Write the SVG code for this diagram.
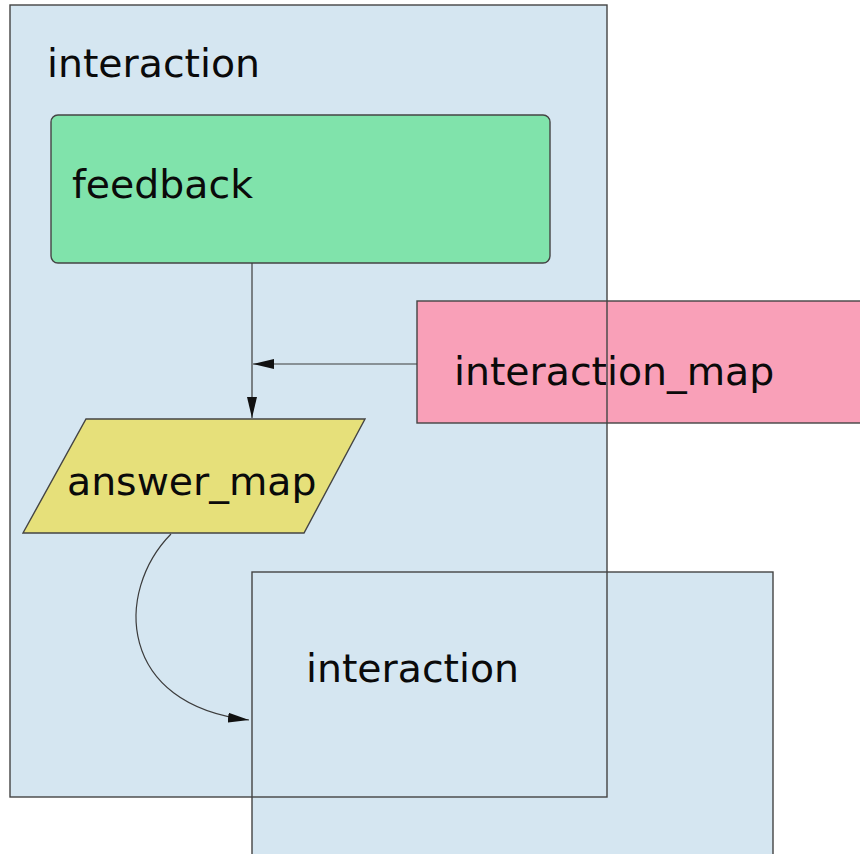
<svg xmlns="http://www.w3.org/2000/svg" width="860" height="854" viewBox="0 0 860 854">
  <style>
    .lbl { font-family: "DejaVu Sans", "Liberation Sans", sans-serif; font-size: 39.4px; fill: #0a0a0a; }
    .edge { fill: none; stroke: #3c3c3c; stroke-width: 1.2; }
    .frame { stroke: #444; stroke-width: 1.4; }
  </style>
  <defs>
    <marker id="arrow" viewBox="0 0 21 11" refX="21" refY="5.5" markerWidth="21" markerHeight="11" markerUnits="userSpaceOnUse" orient="auto">
      <path d="M0,0.5 L21,5.5 L0,10.5 Z" fill="#111"/>
    </marker>
  </defs>
  <rect width="860" height="854" fill="#ffffff"/>

  <!-- outer container fill -->
  <rect x="10" y="5" width="597" height="792" fill="#d5e6f1"/>

  <!-- nested interaction container -->
  <g id="interaction-inner">
    <rect x="252" y="572" width="521" height="300" fill="#d5e6f1" class="frame"/>
    <text x="306" y="682" class="lbl">interaction</text>
  </g>

  <g id="feedback">
    <rect x="51" y="115" width="499" height="148" rx="7" ry="7" fill="#80e3ab" class="frame"/>
    <text x="72" y="198" class="lbl">feedback</text>
  </g>

  <g id="interaction_map">
    <rect x="417" y="301" width="460" height="122" fill="#f9a0b8" class="frame"/>
    <text x="454" y="385" class="lbl">interaction_map</text>
  </g>

  <g id="answer_map">
    <polygon points="86,419 365,419 304,533 23,533" fill="#e6e07a" class="frame"/>
    <text x="67" y="495" class="lbl">answer_map</text>
  </g>

  <!-- outer container outline and title -->
  <g id="interaction-outer">
    <rect x="10" y="5" width="597" height="792" fill="none" class="frame"/>
    <text x="47" y="77" class="lbl">interaction</text>
  </g>

  <g id="connectors">
    <path class="edge" d="M252,263 L252,418" marker-end="url(#arrow)"/>
    <path class="edge" d="M417,364 L253,364" marker-end="url(#arrow)"/>
    <path class="edge" d="M171,534 C114,592 118,705 249,720" marker-end="url(#arrow)"/>
  </g>
</svg>
